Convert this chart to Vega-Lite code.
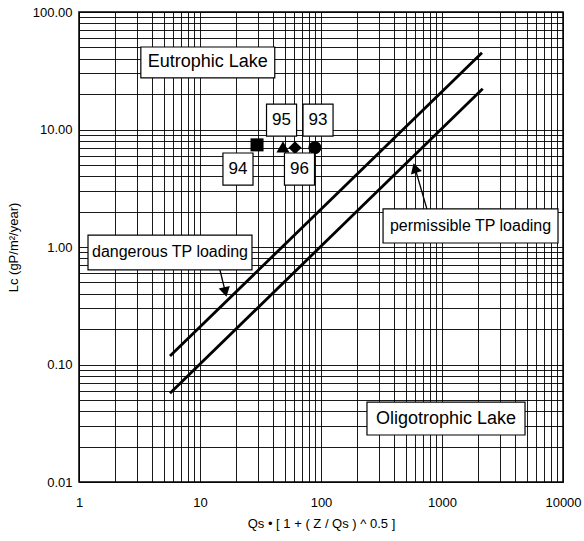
{
  "$schema": "https://vega.github.io/schema/vega-lite/v6.json",
  "width": 484,
  "height": 470,
  "autosize": {"type": "none"},
  "padding": {"left": 79, "top": 12, "right": 21, "bottom": 59},
  "background": "white",
  "config": {
    "view": {"stroke": "#000", "strokeWidth": 1.5},
    "font": "Liberation Sans",
    "axis": {"gridColor": "#000", "gridWidth": 0.9, "gridOpacity": 1, "ticks": false, "domain": false, "labelColor": "#000", "titleColor": "#000", "labelFont": "Liberation Sans", "titleFont": "Liberation Sans", "labelOverlap": false, "labelFlush": false}
  },
  "datasets": {
    "curves": [
      {"line": "dangerous", "x": 5.65, "y": 0.118},
      {"line": "dangerous", "x": 2140, "y": 45},
      {"line": "permissible", "x": 5.65, "y": 0.057},
      {"line": "permissible", "x": 2170, "y": 22.2}
    ],
    "arrows": [
      {"name": "dangerous", "x": 14.6, "y": 0.64, "x2": 16.2, "y2": 0.414},
      {"name": "permissible", "x": 751, "y": 2.1, "x2": 598, "y2": 4.7}
    ],
    "obs": [
      {"year": "94", "x": 29.6, "y": 7.4},
      {"year": "95", "x": 48.5, "y": 7.1},
      {"year": "96", "x": 61, "y": 7.0},
      {"year": "93", "x": 89, "y": 7.0}
    ],
    "labels": [
      {"text": "Eutrophic Lake", "x": 11.6, "y": 37.2},
      {"text": "Oligotrophic Lake", "x": 1079, "y": 0.0347},
      {"text": "dangerous TP loading", "x": 5.65, "y": 0.898},
      {"text": "permissible TP loading", "x": 1721, "y": 1.51},
      {"text": "95", "x": 47.2, "y": 12.0},
      {"text": "93", "x": 94.5, "y": 12.0},
      {"text": "94", "x": 20.6, "y": 4.61},
      {"text": "96", "x": 66.4, "y": 4.61}
    ]
  },
  "resolve": {"scale": {"shape": "independent", "size": "independent"}},
  "layer": [
    {
      "data": {"name": "curves"},
      "mark": {"type": "line", "color": "#000", "strokeWidth": 2.8},
      "encoding": {
        "x": {
          "field": "x", "type": "quantitative",
          "scale": {"type": "log", "domain": [1, 10000], "nice": false},
          "axis": {
            "values": [1,2,3,4,5,6,7,8,9,10,20,30,40,50,60,70,80,90,100,200,300,400,500,600,700,800,900,1000,2000,3000,4000,5000,6000,7000,8000,9000,10000],
            "labelExpr": "indexof([1,10,100,1000,10000], datum.value) >= 0 ? format(datum.value, 'd') : ''",
            "grid": true, "labelFontSize": 13, "labelPadding": 14,
            "title": "Qs • [ 1 + ( Z / Qs ) ^ 0.5 ]", "titleFontSize": 13, "titleFontWeight": "normal", "titlePadding": 8
          }
        },
        "y": {
          "field": "y", "type": "quantitative",
          "scale": {"type": "log", "domain": [0.01, 100], "nice": false},
          "axis": {
            "values": [0.01,0.02,0.03,0.04,0.05,0.06,0.07,0.08,0.09,0.1,0.2,0.3,0.4,0.5,0.6,0.7,0.8,0.9,1,2,3,4,5,6,7,8,9,10,20,30,40,50,60,70,80,90,100],
            "labelExpr": "indexof([0.01,0.1,1,10,100], datum.value) >= 0 ? format(datum.value, '.2f') : ''",
            "grid": true, "labelFontSize": 13, "labelPadding": 7,
            "title": "Lc (gP/m²/year)", "titleFontSize": 13, "titleFontWeight": "normal", "titlePadding": 12
          }
        },
        "detail": {"field": "line", "type": "nominal"}
      }
    },
    {
      "data": {"name": "arrows"},
      "mark": {"type": "rule", "color": "#000", "strokeWidth": 1.3},
      "encoding": {
        "x": {"field": "x", "type": "quantitative"},
        "y": {"field": "y", "type": "quantitative"},
        "x2": {"field": "x2"},
        "y2": {"field": "y2"}
      }
    },
    {
      "data": {"name": "arrows"},
      "transform": [{"filter": "datum.name == 'dangerous'"}],
      "mark": {"type": "point", "shape": "triangle-down", "filled": true, "color": "#000", "opacity": 1, "size": 130, "angle": 347},
      "encoding": {
        "x": {"field": "x2", "type": "quantitative"},
        "y": {"field": "y2", "type": "quantitative"}
      }
    },
    {
      "data": {"name": "arrows"},
      "transform": [{"filter": "datum.name == 'permissible'"}],
      "mark": {"type": "point", "shape": "triangle-up", "filled": true, "color": "#000", "opacity": 1, "size": 130, "angle": 343},
      "encoding": {
        "x": {"field": "x2", "type": "quantitative"},
        "y": {"field": "y2", "type": "quantitative"}
      }
    },
    {
      "data": {"name": "obs"},
      "mark": {"type": "point", "filled": true, "color": "#000", "opacity": 1, "size": 170},
      "encoding": {
        "x": {"field": "x", "type": "quantitative"},
        "y": {"field": "y", "type": "quantitative"},
        "shape": {"field": "year", "type": "nominal", "scale": {"domain": ["94", "95", "96", "93"], "range": ["square", "triangle-up", "diamond", "circle"]}, "legend": null}
      }
    },
    {
      "data": {"name": "labels"},
      "mark": {"type": "point", "filled": true, "fill": "#fff", "stroke": "#000", "strokeWidth": 1.2, "opacity": 1, "size": 32400},
      "encoding": {
        "x": {"field": "x", "type": "quantitative"},
        "y": {"field": "y", "type": "quantitative"},
        "shape": {
          "field": "text", "type": "nominal", "legend": null,
          "scale": {
            "domain": ["Eutrophic Lake", "Oligotrophic Lake", "dangerous TP loading", "permissible TP loading", "93", "94", "95", "96"],
            "range": [
              "M-0.744,-0.172H0.744V0.172H-0.744Z",
              "M-0.878,-0.183H0.878V0.183H-0.878Z",
              "M-0.911,-0.194H0.911V0.194H-0.911Z",
              "M-0.972,-0.189H0.972V0.189H-0.972Z",
              "M-0.167,-0.178H0.167V0.178H-0.167Z",
              "M-0.167,-0.178H0.167V0.178H-0.167Z",
              "M-0.167,-0.178H0.167V0.178H-0.167Z",
              "M-0.167,-0.178H0.167V0.178H-0.167Z"
            ]
          }
        }
      }
    },
    {
      "data": {"name": "labels"},
      "transform": [{"filter": {"field": "text", "oneOf": ["Eutrophic Lake", "Oligotrophic Lake"]}}],
      "mark": {"type": "text", "font": "Liberation Sans", "fontSize": 18, "color": "#000", "align": "center", "baseline": "middle"},
      "encoding": {
        "x": {"field": "x", "type": "quantitative"},
        "y": {"field": "y", "type": "quantitative"},
        "text": {"field": "text"}
      }
    },
    {
      "data": {"name": "labels"},
      "transform": [{"filter": {"field": "text", "oneOf": ["dangerous TP loading", "permissible TP loading"]}}],
      "mark": {"type": "text", "font": "Liberation Sans", "fontSize": 16, "color": "#000", "align": "center", "baseline": "middle"},
      "encoding": {
        "x": {"field": "x", "type": "quantitative"},
        "y": {"field": "y", "type": "quantitative"},
        "text": {"field": "text"}
      }
    },
    {
      "data": {"name": "labels"},
      "transform": [{"filter": {"field": "text", "oneOf": ["93", "94", "95", "96"]}}],
      "mark": {"type": "text", "font": "Liberation Sans", "fontSize": 17, "color": "#000", "align": "center", "baseline": "middle"},
      "encoding": {
        "x": {"field": "x", "type": "quantitative"},
        "y": {"field": "y", "type": "quantitative"},
        "text": {"field": "text"}
      }
    }
  ]
}
